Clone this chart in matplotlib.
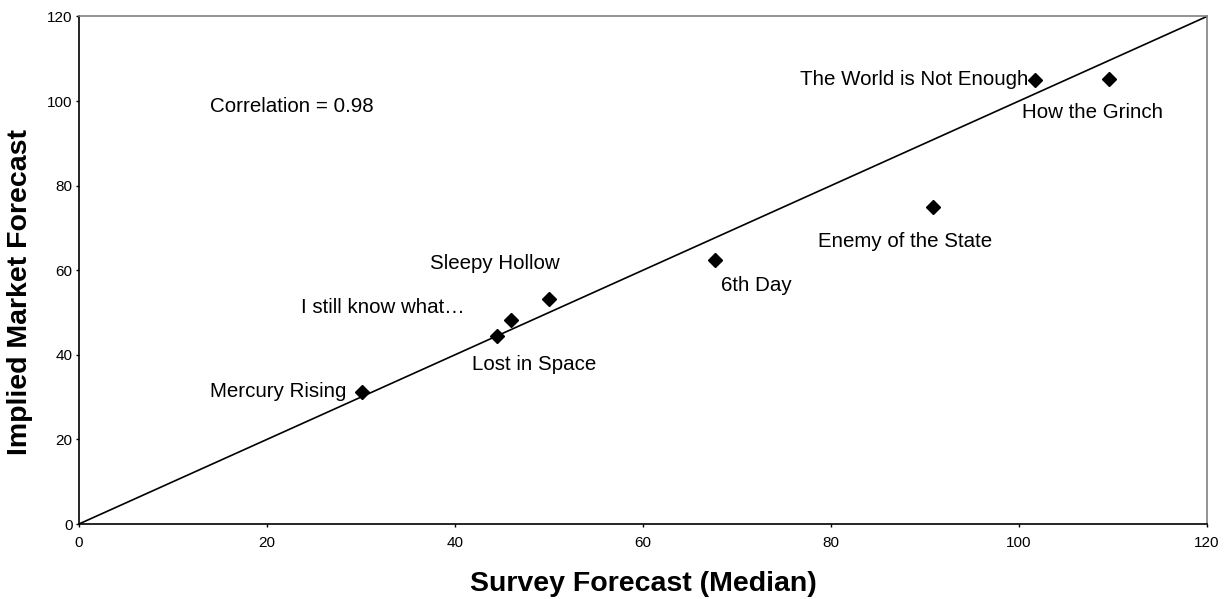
import matplotlib
matplotlib.use("Agg")
import matplotlib.pyplot as plt

plt.rcParams['font.family'] = ['Liberation Sans', 'DejaVu Sans']

# Data
movies = ["Mercury Rising", "Lost in Space", "I still know what\u2026", "Sleepy Hollow",
          "6th Day", "Enemy of the State", "The World is Not Enough", "How the Grinch"]
survey = [30.1, 44.5, 46.0, 50.0, 67.7, 90.9, 101.7, 109.6]
market = [31.3, 44.5, 48.2, 53.1, 62.4, 74.9, 105.0, 105.2]

# label anchor positions (data coords) and alignment
label_x = [28.4, 41.8, 23.6, 37.4, 68.3, 78.6, 101.0, 100.3]
label_y = [31.4, 37.8, 51.3, 61.5, 56.5, 66.7, 105.0, 97.2]
label_ha = ["right", "left", "left", "left", "left", "left", "right", "left"]

diag = [0, 120]
x_ticks = [0, 20, 40, 60, 80, 100, 120]
y_ticks = [0, 20, 40, 60, 80, 100, 120]

fig = plt.figure(figsize=(12.24, 5.99), dpi=100)
ax = fig.add_axes([0.0645, 0.1252, 0.986 - 0.0645, 0.9725 - 0.1252])

ax.plot(diag, diag, color='black', lw=1.2, zorder=2)
ax.plot(survey, market, linestyle='none', marker='D', markersize=7.5,
        color='black', zorder=3)

for name, lx, ly, ha in zip(movies, label_x, label_y, label_ha):
    ax.text(lx, ly, name, ha=ha, va='center', fontsize=14.8, color='black')

ax.text(13.9, 98.8, "Correlation = 0.98", ha='left', va='center', fontsize=14.8)

ax.set_xlim(0, 120)
ax.set_ylim(0, 120)
ax.set_xticks(x_ticks)
ax.set_yticks(y_ticks)
ax.tick_params(axis='both', direction='out', width=1, labelsize=11)
ax.tick_params(axis='y', length=2.5, pad=2)
ax.tick_params(axis='x', length=2.5, pad=6)
ax.tick_params(top=False, right=False)

for side in ['left', 'bottom']:
    ax.spines[side].set_color('black')
    ax.spines[side].set_linewidth(1.2)
for side in ['top', 'right']:
    ax.spines[side].set_color('#808080')
    ax.spines[side].set_linewidth(1.2)

ax.set_xlabel("Survey Forecast (Median)", fontsize=20.5, fontweight='bold')
ax.set_ylabel("Implied Market Forecast", fontsize=20.5, fontweight='bold')
ax.xaxis.set_label_coords(0.5, -0.092)
ax.yaxis.set_label_coords(-0.0408, 0.457)

fig.savefig("out.png", dpi=100)
